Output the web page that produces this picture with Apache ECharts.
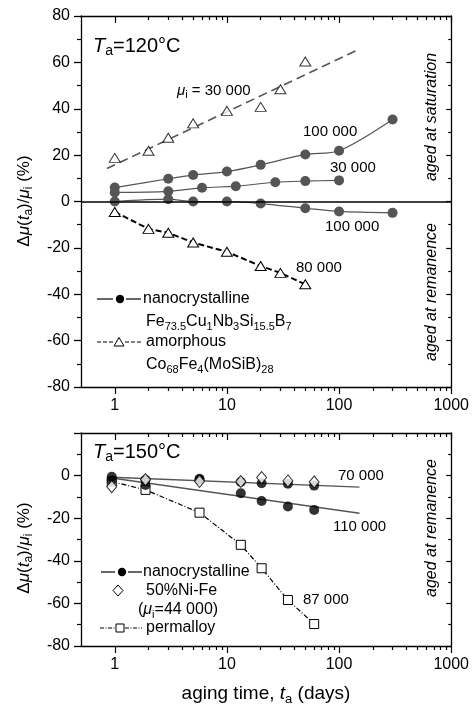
<!DOCTYPE html>
<html><head><meta charset="utf-8">
<script src="https://cdn.jsdelivr.net/npm/echarts@6/dist/echarts.min.js"></script>
<style>html,body{margin:0;padding:0;background:#fff}#c{width:472px;height:707px}</style>
</head><body><div id="c"></div>
<script>
const FONT = '"Liberation Sans", Arial, Helvetica, sans-serif';

// ---- top panel, Ta = 120 °C (x: days, y: %) ----
const amorphSat30k    = [[1,18.8],[2,21.9],[3,27.5],[5,33.7],[10,39.1],[20,40.8],[30,48.4],[50,60.4]];
const amorphSat30kFit = [[0.85,14.2],[150,65.6]];
const nanoSat100k     = [[1,6.0],[3,9.8],[5,11.4],[10,12.9],[20,15.8],[50,20.3],[100,21.9],[300,35.4]];
const nanoSat30k      = [[1,3.9],[3,4.4],[6,5.9],[12,6.6],[27,8.3],[50,8.8],[100,9.1]];
const nanoRem100k     = [[1,0],[3,1.0],[5,0],[10,0],[20,-0.9],[50,-2.9],[100,-4.3],[300,-4.9]];
const amorphRem80k    = [[1,-4.5],[2,-11.8],[3,-13.5],[5,-17.7],[10,-21.7],[20,-27.8],[30,-30.8],[50,-35.7]];

// ---- bottom panel, Ta = 150 °C ----
const nano70k     = [[0.94,-0.5],[1.88,-2.0],[5.7,-1.5],[13.3,-3.0],[20.4,-3.6],[35,-3.8],[60,-4.7]];
const nano70kFit  = [[0.94,-0.75],[152,-5.4]];
const nano110k    = [[0.94,-2.3],[1.88,-4.4],[5.7,-2.0],[13.3,-8.3],[20.4,-11.9],[35,-14.5],[60,-16.1]];
const nano110kFit = [[0.94,-1.1],[152,-17.7]];
const niFe44k     = [[0.94,-5.2],[1.88,-1.9],[5.7,-2.7],[13.3,-2.8],[20.4,-0.9],[35,-2.5],[60,-3.0]];
const permalloy87k= [[0.94,-2.8],[1.88,-6.7],[5.7,-17.4],[13.3,-32.5],[20.4,-43.5],[35,-58.4],[60,-69.7]];

// ---- axis ticks ----
const xMin = 0.5, xMax = 1000;
const xMajorTicks = [1,10,100,1000];
const xMinorTicks = [2,3,4,5,6,7,8,9,20,30,40,50,60,70,80,90,200,300,400,500,600,700,800,900];
const topYRange = [-80,80];
const botYRange = [-80,20];
const yStep = 20;

const BLACK = '#000';
const GRAY = '#555';
const L = Math.log10;

function tickAxis(grid, pos, vals, len, inside, showLine){
  return {type:'value', gridIndex:grid, min:L(xMin), max:L(xMax), position:pos,
    splitLine:{show:false},
    axisLine:{show:showLine, onZero:false, lineStyle:{color:BLACK,width:1.3}},
    axisTick:{show:true, inside:inside, length:len, customValues:vals.map(L), lineStyle:{color:BLACK,width:1.2}},
    axisLabel:{show:false}};
}
function xAxes(grid){
  return [
    {type:'log', logBase:10, min:xMin, max:xMax, gridIndex:grid, position:'bottom', splitLine:{show:false},
      axisLine:{show:true, onZero:false, lineStyle:{color:BLACK,width:1.3}},
      axisTick:{show:false},
      axisLabel:{show:true, margin:11, color:BLACK, fontSize:16, fontFamily:FONT,
        formatter:v=>{const r=Math.round(v); return xMajorTicks.indexOf(r)>=0 && Math.abs(v-r)<1e-6 ? String(r) : '';}}},
    tickAxis(grid,'bottom',xMajorTicks,7,false,false),
    tickAxis(grid,'bottom',xMinorTicks,4,false,false),
    tickAxis(grid,'top',xMajorTicks,7,true,true),
    tickAxis(grid,'top',xMinorTicks,4,true,false)
  ];
}
function yAxes(grid, range, hideTop){
  const base = {type:'value', gridIndex:grid, min:range[0], max:range[1], interval:yStep, splitLine:{show:false}};
  return [
    Object.assign({}, base, {position:'left',
      axisLine:{show:true, onZero:false, lineStyle:{color:BLACK,width:1.3}},
      axisTick:{show:true, inside:false, length:7, lineStyle:{color:BLACK,width:1.3}},
      minorTick:{show:true, splitNumber:2, length:4, lineStyle:{color:BLACK,width:1.2}},
      axisLabel:{show:true, margin:11, color:BLACK, fontSize:16, fontFamily:FONT,
        formatter:v=>(hideTop && v===range[1]) ? '' : String(v)}}),
    Object.assign({}, base, {position:'right',
      axisLine:{show:true, onZero:false, lineStyle:{color:BLACK,width:1.3}},
      axisTick:{show:true, inside:true, length:5, lineStyle:{color:BLACK,width:1.2}},
      minorTick:{show:true, splitNumber:2, length:3, lineStyle:{color:BLACK,width:1.2}},
      axisLabel:{show:false}})
  ];
}

function rich(size){
  return {
    n:{fontSize:size, fontFamily:FONT, lineHeight:Math.round(size*1.25), fill:BLACK},
    i:{fontSize:size, fontFamily:FONT, fontStyle:'italic', lineHeight:Math.round(size*1.25), fill:BLACK},
    s:{fontSize:Math.round(size*0.7), fontFamily:FONT, lineHeight:Math.round(size*0.7), verticalAlign:'bottom', fill:BLACK}
  };
}
function txt(x, y, text, size, opts){
  opts = opts || {};
  return {type:'text', x:x, y:y, rotation:opts.rot||0, z:100,
    style:{text:text, rich:rich(size), fontSize:size, fontFamily:FONT, fill:BLACK,
      fontStyle:opts.italic?'italic':'normal',
      align:opts.align||'left', textAlign:opts.align||'left',
      verticalAlign:'middle', textVerticalAlign:'middle'}};
}
function seg(x1,y,x2,dash){
  return {type:'line', z:100, shape:{x1:x1,y1:y,x2:x2,y2:y},
    style:{stroke:BLACK, lineWidth:1.2, lineDash:dash||null}};
}

const graphics = [
  txt(93, 46, '{i|T}{s|a}{n|=120°C}', 20),
  txt(93, 452, '{i|T}{s|a}{n|=150°C}', 20),
  txt(177, 91, '{i|μ}{s|i}{n| = 30 000}', 15),
  txt(303, 132, '{n|100 000}', 15),
  txt(330, 168, '{n|30 000}', 15),
  txt(325, 227, '{n|100 000}', 15),
  txt(296, 268, '{n|80 000}', 15),
  txt(338, 476, '{n|70 000}', 15),
  txt(333, 527, '{n|110 000}', 15),
  txt(303, 600, '{n|87 000}', 15),
  txt(432, 117, 'aged at saturation', 16, {rot:Math.PI/2, italic:true, align:'center'}),
  txt(432, 292, 'aged at remanence', 16, {rot:Math.PI/2, italic:true, align:'center'}),
  txt(432, 528, 'aged at remanence', 16, {rot:Math.PI/2, italic:true, align:'center'}),
  txt(24, 201, '{n|Δ}{i|μ}{n|(}{i|t}{s|a}{n|)/}{i|μ}{s|i}{n| (%)}', 17, {rot:Math.PI/2, align:'center'}),
  txt(24, 548, '{n|Δ}{i|μ}{n|(}{i|t}{s|a}{n|)/}{i|μ}{s|i}{n| (%)}', 17, {rot:Math.PI/2, align:'center'}),
  txt(266, 694, '{n|aging time, }{i|t}{s|a}{n| (days)}', 19, {align:'center'}),
  // top legend
  seg(97,299,113), {type:'circle', z:100, shape:{cx:120,cy:299,r:4.2}, style:{fill:BLACK}}, seg(126,299,141),
  txt(143, 299, '{n|nanocrystalline}', 16),
  txt(146, 322, '{n|Fe}{s|73.5}{n|Cu}{s|1}{n|Nb}{s|3}{n|Si}{s|15.5}{n|B}{s|7}', 16),
  seg(97,342,113,[4,2]), {type:'polygon', z:100, shape:{points:[[119,337.5],[124,346],[114,346]]}, style:{fill:'#fff', stroke:BLACK, lineWidth:1}}, seg(125,342,141,[4,2]),
  txt(146, 342, '{n|amorphous}', 16),
  txt(146, 365, '{n|Co}{s|68}{n|Fe}{s|4}{n|(MoSiB)}{s|28}', 16),
  // bottom legend
  seg(101,572,115), {type:'circle', z:100, shape:{cx:122,cy:572,r:4.2}, style:{fill:BLACK}}, seg(128,572,142),
  txt(143, 572, '{n|nanocrystalline}', 16),
  {type:'polygon', z:100, shape:{points:[[118,585],[123,590.5],[118,596],[113,590.5]]}, style:{fill:'#fff', stroke:BLACK, lineWidth:1}},
  txt(146, 591, '{n|50%Ni-Fe}', 16),
  txt(138, 610, '{n|(}{i|μ}{s|i}{n|=44 000)}', 16),
  seg(100,628,115,[4,1.5,1,1.5]), {type:'rect', z:100, shape:{x:116,y:624,width:8,height:8}, style:{fill:'#fff', stroke:BLACK, lineWidth:1}}, seg(125,628,142,[4,1.5,1,1.5]),
  txt(146, 628, '{n|permalloy}', 16)
];

const triStyle = {color:'#fff', borderColor:BLACK, borderWidth:1};
const option = {
  animation:false,
  backgroundColor:'#fff',
  textStyle:{fontFamily:FONT},
  grid:[
    {left:81, right:20, top:16, height:371, containLabel:false},
    {left:81, right:20, top:433, height:213, containLabel:false}
  ],
  xAxis:[].concat(xAxes(0), xAxes(1)),
  yAxis:[].concat(yAxes(0, topYRange, false), yAxes(1, botYRange, true)),
  graphic:{elements:graphics},
  series:[
    {type:'line', xAxisIndex:0, yAxisIndex:0, data:amorphSat30kFit, showSymbol:false, symbol:'none',
      lineStyle:{color:GRAY, width:1.6, type:[9,5]}, z:2,
      markLine:{silent:true, symbol:'none', label:{show:false}, data:[{yAxis:0}],
        lineStyle:{color:BLACK, width:1.5, type:'solid'}}},
    {type:'line', xAxisIndex:0, yAxisIndex:0, data:nanoSat100k, smooth:0.3, symbol:'circle', symbolSize:10,
      lineStyle:{color:GRAY, width:1.2}, itemStyle:{color:GRAY}, z:3},
    {type:'line', xAxisIndex:0, yAxisIndex:0, data:nanoSat30k, smooth:0.3, symbol:'circle', symbolSize:10,
      lineStyle:{color:GRAY, width:1.2}, itemStyle:{color:GRAY}, z:3},
    {type:'line', xAxisIndex:0, yAxisIndex:0, data:nanoRem100k, smooth:0.3, symbol:'circle', symbolSize:10,
      lineStyle:{color:GRAY, width:1.2}, itemStyle:{color:GRAY}, z:3},
    {type:'scatter', xAxisIndex:0, yAxisIndex:0, data:amorphSat30k, symbol:'triangle', symbolSize:[11,9],
      itemStyle:triStyle, z:4},
    {type:'line', xAxisIndex:0, yAxisIndex:0, data:amorphRem80k, symbol:'triangle', symbolSize:[11,9],
      showAllSymbol:true, lineStyle:{color:BLACK, width:2, type:[6,3]}, itemStyle:triStyle, z:4},

    {type:'line', xAxisIndex:5, yAxisIndex:2, data:nano70kFit, symbol:'none', lineStyle:{color:GRAY, width:1.4}, z:2},
    {type:'line', xAxisIndex:5, yAxisIndex:2, data:nano110kFit, symbol:'none', lineStyle:{color:GRAY, width:1.4}, z:2},
    {type:'line', xAxisIndex:5, yAxisIndex:2, data:permalloy87k, symbol:'rect', symbolSize:9, showAllSymbol:true,
      lineStyle:{color:BLACK, width:1.2, type:[5,2,1,2]}, itemStyle:triStyle, z:3},
    {type:'scatter', xAxisIndex:5, yAxisIndex:2, data:nano70k, symbol:'circle', symbolSize:10, itemStyle:{color:BLACK}, z:4},
    {type:'scatter', xAxisIndex:5, yAxisIndex:2, data:nano110k, symbol:'circle', symbolSize:10, itemStyle:{color:BLACK}, z:4},
    {type:'scatter', xAxisIndex:5, yAxisIndex:2, data:niFe44k, symbol:'diamond', symbolSize:[10,12], itemStyle:triStyle, z:5}
  ]
};
const chart = echarts.init(document.getElementById('c'), null, {renderer:'canvas'});
chart.setOption(option);
</script></body></html>
